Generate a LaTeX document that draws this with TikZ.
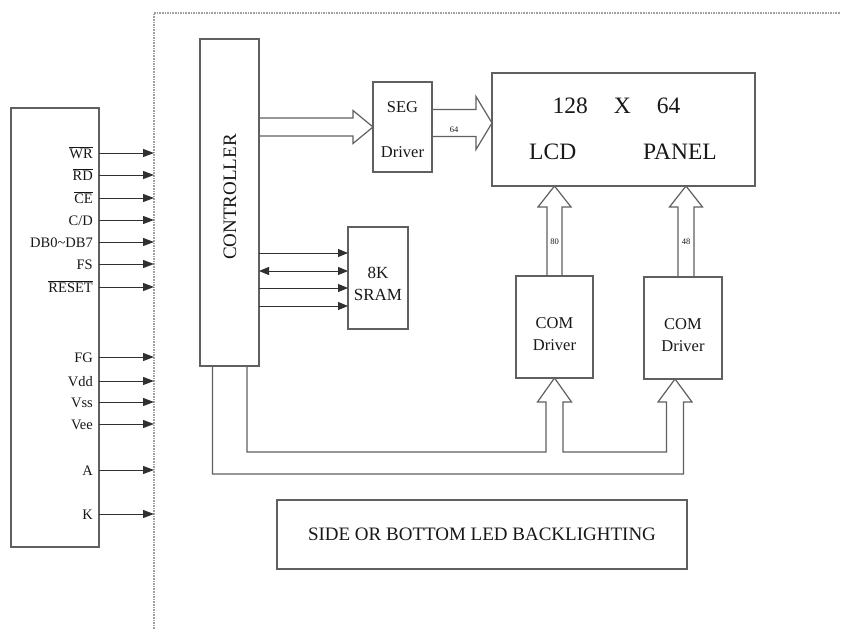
\documentclass[tikz,border=0pt]{standalone}
\usepackage{fontspec}
\setmainfont{Liberation Serif}
\usetikzlibrary{arrows.meta,calc}
\definecolor{linegray}{HTML}{606060}
\definecolor{wiregray}{HTML}{303030}
\definecolor{dotgray}{HTML}{A0A0A0}
\definecolor{inkblack}{HTML}{181818}
\newcommand\ovl[1]{$\overline{\mbox{#1}}$}

\begin{document}
\begin{tikzpicture}[x=1pt, y=-1pt,
  box/.style={draw=linegray, line width=1.2pt, inner sep=0pt, outer sep=0pt},
  boxtext/.style={inner sep=0pt, text=inkblack, align=center},
  pinlabel/.style={anchor=base east, inner sep=0pt, text=inkblack, font=\fontsize{14.5}{16}\selectfont},
  sigarrow/.style={draw=wiregray, line width=1pt, -{Triangle[length=11pt,width=8pt]}},
  memarrow/.style={draw=wiregray, line width=1pt, -{Triangle[length=10pt,width=8pt]}},
  memboth/.style={memarrow, {Triangle[length=10pt,width=8pt]}-{Triangle[length=10pt,width=8pt]}},
  bus/.style={draw=linegray, line width=1.2pt, line join=miter},
  buswidth/.style={inner sep=0pt, text=inkblack, font=\fontsize{8.5}{10}\selectfont}]
  \useasboundingbox (0,0) rectangle (841,629);
  \fill[white] (0,0) rectangle (841,629);
  % module outline
  \draw[dotgray, line width=1.6pt, densely dotted] (154,629) -- (154,13) -- (841,13);

  % host side pins
  \node[box, minimum width=88pt, minimum height=439pt] (host) at (55,327.5) {};
  \foreach \y/\pin [count=\i] in {153/\ovl{WR}, 175/\ovl{RD}, 198/\ovl{CE}, 220/{C/D},
      242/{DB0\textasciitilde DB7}, 264/FS, 287/\ovl{RESET}, 357/FG, 381/Vdd,
      402/Vss, 424/Vee, 470/A, 514/K} {
    \coordinate (pin\i) at (154,\y);
    \node[pinlabel] (lbl\i) at (93,\y+5) {\pin};
    \draw[sigarrow] (host.east |- pin\i) -- (pin\i);
  }

  % blocks
  \node[box, minimum width=59pt, minimum height=327pt] (ctrl) at (229.5,202.5) {};
  \node[boxtext, rotate=90, font=\fontsize{19}{22}\selectfont] (ctrltxt) at (230,197) {CONTROLLER};
  \node[box, minimum width=59pt, minimum height=90pt] (seg) at (402.5,127) {};
  \node[boxtext, font=\fontsize{16.5}{20}\selectfont] (segtxt) at (402.5,129.5) {SEG\\[25pt]Driver};
  \node[box, minimum width=263pt, minimum height=113pt] (lcd) at (623.5,129.5) {};
  \node[boxtext, font=\fontsize{23.5}{28}\selectfont] (lcdsize) at (616.5,106) {128\hspace{26pt}X\hspace{26pt}64};
  \node[boxtext, font=\fontsize{23.5}{28}\selectfont] (lcdname) at (623,152) {LCD\hspace{67pt}PANEL};
  \node[box, minimum width=60pt, minimum height=102pt] (sram) at (378,278) {};
  \node[boxtext, font=\fontsize{17}{22}\selectfont] (sramtxt) at (378,284) {8K\\SRAM};
  \node[box, minimum width=77pt, minimum height=102pt] (com1) at (554.5,327) {};
  \node[boxtext, font=\fontsize{16.5}{22}\selectfont] (com1txt) at (554.5,334) {COM\\Driver};
  \node[box, minimum width=78pt, minimum height=102pt] (com2) at (683,328) {};
  \node[boxtext, font=\fontsize{16.5}{22}\selectfont] (com2txt) at (683,335) {COM\\Driver};
  \node[box, minimum width=410pt, minimum height=69pt, text=inkblack,
        font=\fontsize{19}{22}\selectfont] (led) at (482,534.5) {SIDE OR BOTTOM LED BACKLIGHTING};

  % controller to SRAM
  \foreach \dy/\kind [count=\j] in {-25/memarrow, -7/memboth, 10/memarrow, 28/memarrow} {
    \coordinate (mem\j) at ($(sram.west)+(0,\dy)$);
    \draw[\kind] (ctrl.east |- mem\j) -- (mem\j);
  }

  % controller to SEG driver
  \path (seg.west) ++(-20,-9) coordinate (b1u) ++(0,18) coordinate (b1d);
  \draw[bus] (ctrl.east |- b1u) -- (b1u) -- ++(0,-7.5) -- (seg.west) -- ++(-20,16.5)
    -- (b1d) -- (ctrl.east |- b1d);

  % SEG driver to panel
  \coordinate (t2) at ($(seg.east -| lcd.west)+(0,-4)$);
  \path (t2) ++(-16,-13.5) coordinate (b2u) ++(0,27) coordinate (b2d);
  \draw[bus] (seg.east |- b2u) -- (b2u) -- ++(0,-13) -- (t2) -- ++(-16,26.5)
    -- (b2d) -- (seg.east |- b2d);
  \node[buswidth, anchor=south, yshift=4pt] (w64) at ($(seg.east |- b2d)!0.5!(b2d)$) {64};

  % COM drivers to panel
  \coordinate (t3) at (com1.north |- lcd.south);
  \path (t3) ++(-7.5,21) coordinate (b3l) ++(15,0) coordinate (b3r);
  \draw[bus] (b3l |- com1.north) -- (b3l) -- ++(-9,0) -- (t3) -- ++(16.5,21)
    -- (b3r) -- (b3r |- com1.north);
  \node[buswidth] (w80) at ($(b3l)!0.5!(b3r |- com1.north)$) {80};

  \coordinate (t4) at ($(com2.north |- lcd.south)+(3,0)$);
  \path (t4) ++(-8,21) coordinate (b4l) ++(16,0) coordinate (b4r);
  \draw[bus] (b4l |- com2.north) -- (b4l) -- ++(-8.5,0) -- (t4) -- ++(16.5,21)
    -- (b4r) -- (b4r |- com2.north);
  \node[buswidth] (w48) at ($(b4l)!0.5!(b4r |- com2.north)$) {48};

  % controller to COM drivers
  \coordinate (c1) at ($(ctrl.south)+(17.5,0)$);
  \coordinate (c2) at ($(ctrl.south)+(-17,0)$);
  \path (com1.south) ++(-8.5,74) coordinate (b5l) ++(17,0) coordinate (b5r);
  \coordinate (t6) at ($(com2.south)+(-8,0)$);
  \path (t6) ++(-8.5,73) coordinate (b6l) ++(17,0) coordinate (b6r);
  \draw[bus] (c1) |- (b5l) -- ++(0,-50) -- ++(-8.5,0) -- (com1.south) -- ++(17,24)
    -- ++(-8.5,0) -- (b5r) -- (b6l) -- ++(0,-50) -- ++(-8.5,0) -- (t6) -- ++(17,23)
    -- ++(-8.5,0) -- ++(0,72) -| (c2);
\end{tikzpicture}
\end{document}
